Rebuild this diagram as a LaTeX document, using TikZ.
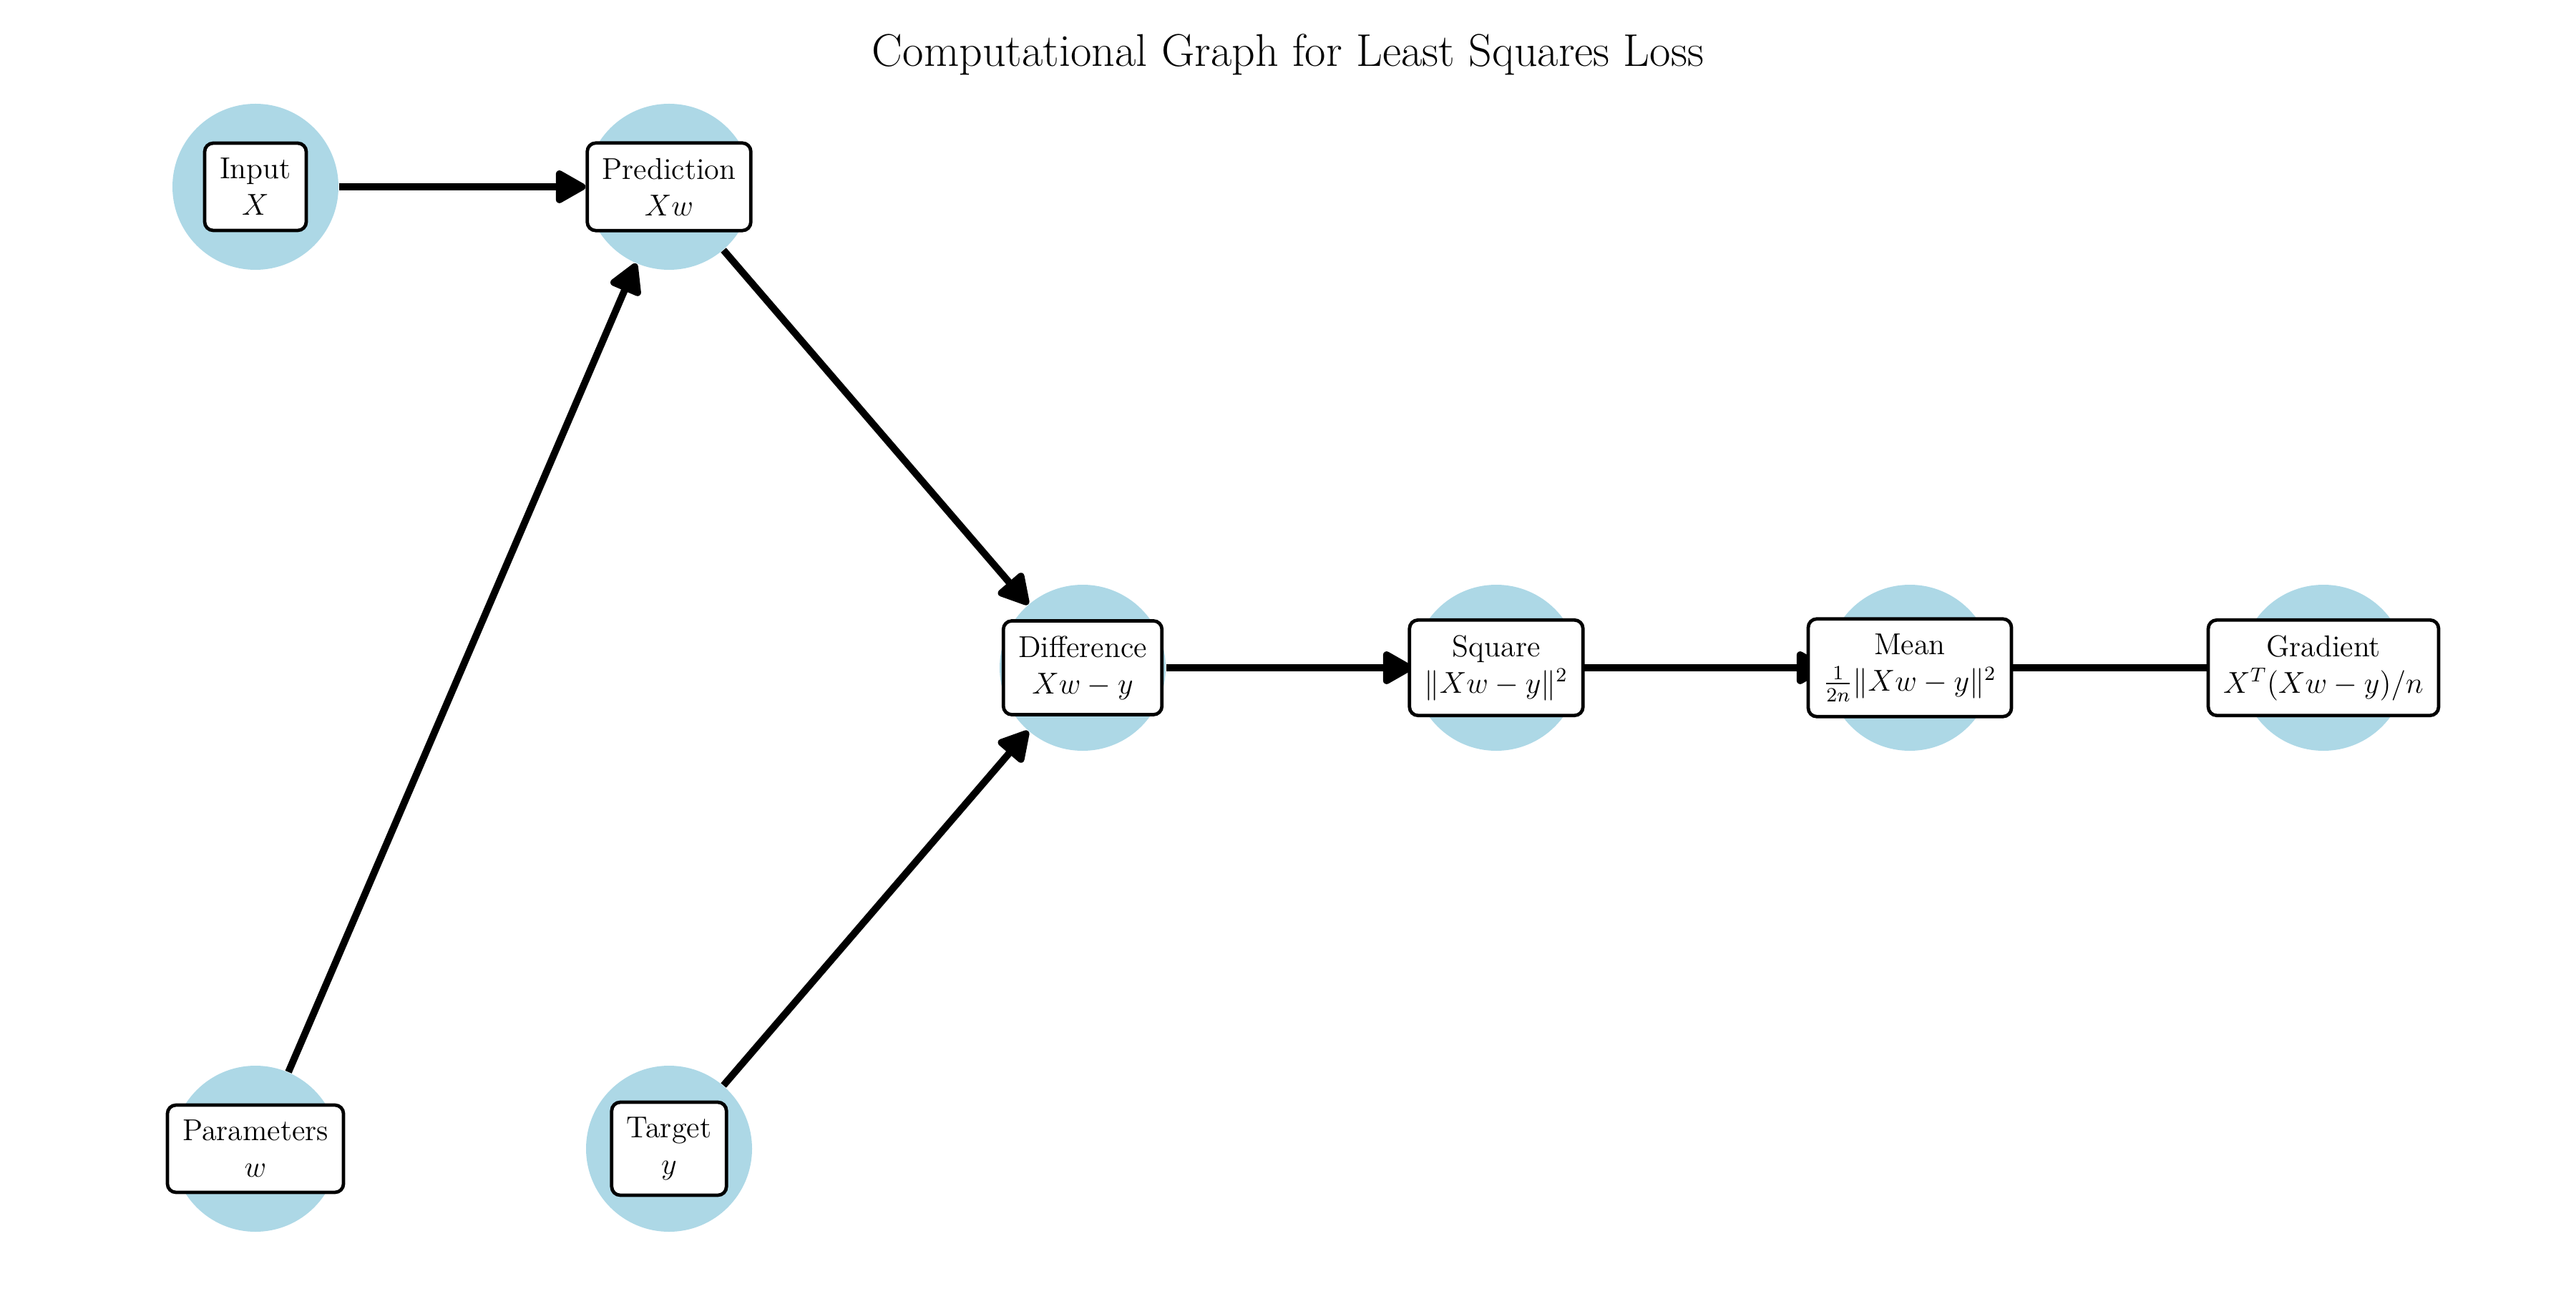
\documentclass[tikz,border=0pt]{standalone}
\usepackage{amsmath,amssymb}
\usepackage{xcolor}
\usetikzlibrary{arrows.meta,positioning}
\definecolor{haloblue}{HTML}{ADD8E6}
\tikzset{
  halo/.style={circle, fill=haloblue, minimum size=23.2mm, inner sep=0pt},
  opbox/.style={rectangle, rounded corners=3.4pt, draw=black, line width=1.35pt, fill=white, align=center, inner xsep=6pt, inner ysep=6pt, font=\fontsize{12}{14.5}\selectfont},
  flow/.style={-{Triangle[length=4.7mm, width=5mm, round]}, line width=2.8pt, black},
}

\begin{document}
\begin{tikzpicture}
\useasboundingbox (0,0) rectangle (36,18);
\node[font=\fontsize{18.2}{22}\selectfont] (title) at (18,17.24) {Computational Graph for Least Squares Loss};
% --- halos behind each operation ---
\node[halo] (in)   at (3.57,15.39) {};
\node[halo] (pred) at (9.35,15.39) {};
\node[halo] (par)  at (3.57,1.95)  {};
\node[halo] (tgt)  at (9.35,1.95)  {};
\node[halo] (diff) at (15.13,8.67) {};
\node[halo] (sq)   at (20.91,8.67) {};
\node[halo] (mean) at (26.69,8.67) {};
\node[halo] (grad) at (32.47,8.67) {};
% --- data flow ---
\draw[flow] (in) -- (pred);
\draw[flow] (par) -- (pred);
\draw[flow] (pred) -- (diff);
\draw[flow] (tgt) -- (diff);
\draw[flow] (diff) -- (sq);
\draw[flow] (sq) -- (mean);
\draw[flow] (mean) -- (grad);
% --- labels on top ---
\node[opbox] (inL)   at (in)   {Input\\$X$};
\node[opbox] (predL) at (pred) {Prediction\\$Xw$};
\node[opbox] (parL)  at (par)  {Parameters\\$w$};
\node[opbox] (tgtL)  at (tgt)  {Target\\$y$};
\node[opbox] (diffL) at (diff) {Difference\\$Xw-y$};
\node[opbox] (sqL)   at (sq)   {Square\\$\|Xw-y\|^2$};
\node[opbox] (meanL) at (mean) {Mean\\$\frac{1}{2n}\|Xw-y\|^2$};
\node[opbox] (gradL) at (grad) {Gradient\\$X^T(Xw-y)/n$};
\end{tikzpicture}
\end{document}
